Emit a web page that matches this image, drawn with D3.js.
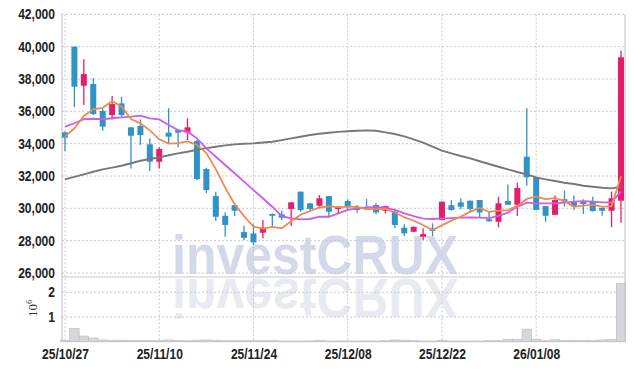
<!DOCTYPE html>
<html><head><meta charset="utf-8">
<script src="https://cdn.jsdelivr.net/npm/d3@7"></script>
<style>
html,body{margin:0;padding:0;background:#fff;}
svg{display:block;}
</style></head><body>
<svg id="chart" width="634" height="371"></svg>
<script>
const dates = ["25/10/27","25/10/28","25/10/29","25/10/30","25/10/31","25/11/03","25/11/04","25/11/05","25/11/06","25/11/07",
"25/11/10","25/11/11","25/11/12","25/11/13","25/11/14","25/11/17","25/11/18","25/11/19","25/11/20","25/11/21",
"25/11/24","25/11/25","25/11/26","25/11/27","25/11/28","25/12/01","25/12/02","25/12/03","25/12/04","25/12/05",
"25/12/08","25/12/09","25/12/10","25/12/11","25/12/12","25/12/15","25/12/16","25/12/17","25/12/18","25/12/19",
"25/12/22","25/12/23","25/12/24","25/12/26","25/12/29","25/12/30","26/01/02","26/01/05","26/01/06","26/01/07",
"26/01/08","26/01/09","26/01/12","26/01/13","26/01/14","26/01/15","26/01/16","26/01/19","26/01/20","26/01/21"];
const openP = [34700,40000,37580,37690,36020,35770,36490,35010,35090,33960,
32880,34680,34840,34680,34160,32430,30760,29540,30200,28530,
28450,28490,29650,29630,29960,31030,30310,30160,30760,29960,
30450,30100,30060,30200,29850,29790,28800,28550,28240,28760,
29280,30190,30370,30470,30510,29320,29170,30450,30220,33190,
31920,30140,29600,30560,30430,30390,30390,30020,29850,30470];
const highP = [34750,40000,39220,38040,36140,36950,36900,35010,35500,34330,
33770,36190,34860,35570,34230,32510,31030,29750,30350,28920,
29010,29280,29680,29850,30380,31040,30320,30820,30770,30110,
30550,30200,30590,30310,30160,29900,29010,28880,28760,29070,
30420,30510,30620,30480,30520,29790,30720,31480,31580,36190,
31930,30150,30800,31090,30800,30560,30720,30040,31030,39750];
const lowP = [33550,36250,36390,35770,34800,35500,35670,32470,33920,32310,
32470,34020,33770,34220,31750,30930,29210,28240,29520,28040,
27730,28150,28830,29280,28900,29790,29790,30100,29440,29690,
29900,29730,29890,29630,29690,28760,28290,28530,28040,28290,
29260,29850,29940,29830,29440,29190,28830,30200,29520,31400,
29890,29170,29590,30100,29900,29650,29800,29540,28830,29110];
const closeP = [34370,37520,38300,35830,35050,36450,35770,34490,34530,32880,
33670,34430,34680,35010,31810,31130,29480,28970,29850,28180,
27900,28800,29540,29420,30370,29890,29960,30620,29790,30100,
30060,29900,29940,29750,30140,28970,28450,28860,28410,28610,
30410,29900,30100,29960,29750,29200,30310,30220,31260,31920,
29900,29540,30510,30410,30120,30270,29830,29850,30620,39340];
const volume = [60000,540000,230000,150000,70000,60000,60000,50000,50000,40000,
40000,70000,50000,40000,60000,70000,60000,40000,40000,40000,
40000,40000,40000,30000,30000,30000,30000,60000,30000,30000,
30000,30000,30000,30000,40000,70000,60000,40000,30000,30000,
60000,30000,30000,30000,30000,40000,40000,90000,90000,510000,
100000,50000,80000,50000,50000,50000,50000,70000,100000,2360000];
const ma5 = [34430,34950,35710,36120,36214,36630,36280,35518,35258,34824,
34268,34000,34038,34134,33920,33412,32422,31280,30248,29522,
28876,28740,28854,28768,29206,29604,29836,30052,30126,30072,
30106,30094,29958,29950,29958,29740,29450,29234,28966,28660,
28948,29238,29486,29796,30024,29782,29864,29888,30148,30582,
30722,30568,30626,30456,30096,30170,30228,30096,30138,31982];
const ma10 = [35050,35260,35520,35540,35510,35570,35630,35670,35730,35560,
35500,35150,34840,34740,34330,33710,33190,32680,32170,31650,
31130,30620,30100,29520,29380,29320,29340,29480,29480,29690,
29900,30000,30060,30080,30040,29900,29690,29520,29360,29340,
29380,29400,29420,29440,29420,29400,29540,29730,30100,30350,
30310,30310,30310,30350,30410,30450,30410,30370,30370,31050];
const ma60 = [31794,31950,32103,32260,32412,32520,32635,32790,32944,33050,
33154,33280,33402,33500,33620,33720,33810,33890,33958,33990,
34020,34070,34120,34220,34330,34430,34534,34610,34676,34730,
34770,34800,34820,34800,34700,34595,34453,34268,34058,33810,
33563,33402,33235,33093,32910,32740,32573,32412,32245,32103,
31917,31794,31689,31583,31503,31398,31336,31274,31237,31336];
const priceTicks = [26000,28000,30000,32000,34000,36000,38000,40000,42000];
const volTicks = [1000000,2000000];
const xTickIdx = [0,10,20,30,40,50];

const UP = "#e31f6b", DOWN = "#2f93c8";
const FONT = "'Liberation Sans',Arial,sans-serif";

const svg = d3.select("#chart");
const plotL = 62, plotR = 625, pTop = 14.3, pBot = 277, vBot = 341.7;

const x = d3.scaleLinear().domain([0, 59]).range([65, 621]);
const step = x(1) - x(0);
const y = d3.scaleLinear().domain([26000, 42000]).range([273, 14.3]);
const yv = d3.scaleLinear().domain([0, 2000000]).range([vBot, 292.3]);

const idx = d3.range(dates.length);

// watermark
const wm = svg.append("g");
wm.append("text").attr("x", 172).attr("y", 274)
  .attr("font-family", "'Liberation Sans',Arial,sans-serif").attr("font-weight", "bold")
  .attr("font-size", 55).attr("textLength", 286).attr("lengthAdjust", "spacingAndGlyphs")
  .attr("fill", "#d3d9e9").text("investCRUX");
wm.append("text").attr("x", 172).attr("y", 274)
  .attr("transform", "translate(0,553) scale(1,-1)")
  .attr("font-family", "'Liberation Sans',Arial,sans-serif").attr("font-weight", "bold")
  .attr("font-size", 55).attr("textLength", 286).attr("lengthAdjust", "spacingAndGlyphs")
  .attr("fill", "#e8eaf1").text("investCRUX");

// gridlines
const grid = svg.append("g").attr("stroke", "#c6c8da").attr("stroke-width", 1).attr("stroke-dasharray", "2,2");
grid.selectAll(".hg").data(priceTicks).join("line")
  .attr("x1", plotL).attr("x2", plotR).attr("y1", d => y(d)).attr("y2", d => y(d));
grid.selectAll(".vg").data(volTicks).join("line")
  .attr("x1", plotL).attr("x2", plotR).attr("y1", d => yv(d)).attr("y2", d => yv(d));
grid.selectAll(".xg").data(xTickIdx).join("line")
  .attr("x1", d => x(d)).attr("x2", d => x(d)).attr("y1", pTop).attr("y2", vBot);

// volume bars
svg.append("g").selectAll("rect").data(idx).join("rect")
  .attr("x", i => x(i) - step / 2).attr("width", step)
  .attr("y", i => yv(volume[i])).attr("height", i => vBot - yv(volume[i]))
  .attr("fill", "#d6d6db").attr("stroke", "#b8b8be").attr("stroke-width", 0.6);

// frame
const frame = svg.append("g").attr("stroke", "#c8c8cc").attr("stroke-width", 1.2).attr("fill", "none");
frame.append("line").attr("x1", plotL).attr("x2", plotL).attr("y1", pTop).attr("y2", vBot);
frame.append("line").attr("x1", plotR).attr("x2", plotR).attr("y1", pTop).attr("y2", vBot);
frame.append("line").attr("x1", plotL).attr("x2", plotR).attr("y1", pBot).attr("y2", pBot);
frame.append("line").attr("x1", plotL).attr("x2", plotR).attr("y1", vBot).attr("y2", vBot);

// candles
const cg = svg.append("g");
const col = i => closeP[i] >= openP[i] ? UP : DOWN;
cg.selectAll("line").data(idx).join("line")
  .attr("x1", i => x(i)).attr("x2", i => x(i))
  .attr("y1", i => y(highP[i])).attr("y2", i => y(lowP[i]))
  .attr("stroke", col).attr("stroke-width", 1.3);
cg.selectAll("rect").data(idx).join("rect")
  .attr("x", i => x(i) - 3).attr("width", 6)
  .attr("y", i => y(Math.max(openP[i], closeP[i])))
  .attr("height", i => Math.max(1.5, Math.abs(y(openP[i]) - y(closeP[i]))))
  .attr("fill", col);

// moving averages
const mkLine = arr => d3.line().x(i => x(i)).y(i => y(arr[i]))(idx);
svg.append("path").attr("d", mkLine(ma60)).attr("fill", "none").attr("stroke", "#777").attr("stroke-width", 1.9);
svg.append("path").attr("d", mkLine(ma10)).attr("fill", "none").attr("stroke", "#cb5cee").attr("stroke-width", 1.8);
svg.append("path").attr("d", mkLine(ma5)).attr("fill", "none").attr("stroke", "#ef8a4f").attr("stroke-width", 1.8);

// axes
const ya = d3.axisLeft(y).tickValues(priceTicks).tickSize(0).tickPadding(7).tickFormat(d3.format(","));
const yag = svg.append("g").attr("transform", `translate(${plotL},0)`).call(ya);
const yva = d3.axisLeft(yv).tickValues(volTicks).tickSize(0).tickPadding(7).tickFormat(d => d / 1e6);
const yvag = svg.append("g").attr("transform", `translate(${plotL},0)`).call(yva);
const xa = d3.axisBottom(x).tickValues(xTickIdx).tickSize(0).tickPadding(7).tickFormat(i => dates[i]);
const xag = svg.append("g").attr("transform", `translate(0,${vBot})`).call(xa);
[yag, yvag, xag].forEach(g => {
  g.select(".domain").remove();
  g.selectAll("text").attr("font-family", FONT).attr("font-size", 14).attr("font-weight", "bold").attr("fill", "#222")
    .each(function () {
      const w = this.getComputedTextLength();
      d3.select(this).attr("textLength", w * 0.86).attr("lengthAdjust", "spacingAndGlyphs");
    });
});

// 10^6 label
const lab = svg.append("text").attr("transform", "translate(37,317) rotate(-90)")
  .attr("font-family", "'Liberation Serif','DejaVu Serif',serif").attr("font-size", 13).attr("fill", "#333");
lab.append("tspan").text("10");
lab.append("tspan").attr("dy", -5).attr("font-size", 9).text("6");
</script>
</body></html>
